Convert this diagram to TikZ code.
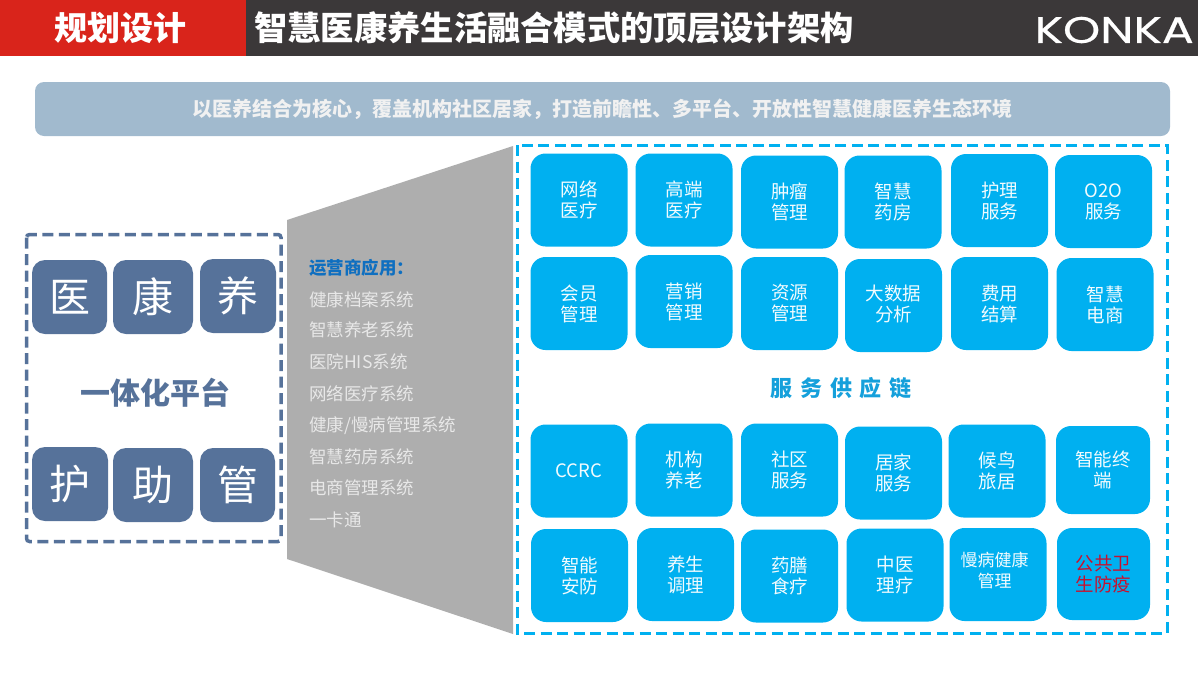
\documentclass[tikz,border=0pt]{standalone}
\usepackage{fontspec}
\setmainfont{Noto Sans CJK SC}
\newfontfamily\logofont[FakeStretch=1.28,FakeBold=0.6]{Poppins}
\definecolor{headred}{HTML}{D9241B}
\definecolor{headdark}{HTML}{3B3839}
\definecolor{bannerblue}{HTML}{A1BACE}
\definecolor{navy}{HTML}{56729A}
\definecolor{cellblue}{HTML}{00B0F0}
\definecolor{funnelgray}{HTML}{AEAEAE}
\definecolor{listgray}{HTML}{E8E8E8}
\definecolor{opsblue}{HTML}{0F6FC0}
\definecolor{alertred}{HTML}{C8102E}
\tikzset{
    cellbox/.style={fill=cellblue, rounded corners=15pt, minimum width=97pt, minimum height=93pt,
        inner sep=0pt, align=center, text=white!95!cellblue, font=\fontsize{18.5}{21}\selectfont},
    bigbox/.style={fill=navy, rounded corners=13pt, minimum height=74pt, inner sep=0pt,
        text=white, font=\fontsize{41}{45}\selectfont},
    sysitem/.style={anchor=west, inner sep=0pt, text=listgray, font=\fontsize{17.5}{20}\selectfont},
    framedash/.style={dash pattern=on 11pt off 5.5pt}
}
\begin{document}
\begin{tikzpicture}[x=1pt, y=-1pt]
        \useasboundingbox (0,0) rectangle (1200,675);
        % header
        \fill [headdark] (246,0) rectangle (1198,56);
        \fill [headred] (0,0) rectangle (246,56);
        \node [inner sep=0pt, text=white, font=\fontsize{33}{36}\bfseries\selectfont] (part) at (120.5,28) {规划设计};
        \node [anchor=west, inner sep=0pt, text=white, font=\fontsize{33.3}{36}\bfseries\selectfont]
            (title) at (254,28) {智慧医康养生活融合模式的顶层设计架构};
        \node [anchor=east, inner sep=0pt, text=white, font=\logofont\fontsize{37}{40}\selectfont]
            (logo) at (1194,30) {KONKA};
        % banner
        \node [fill=bannerblue, rounded corners=9pt, minimum width=1135pt, minimum height=54pt,
            inner sep=0pt, text=listgray!60!white, font=\fontsize{20}{24}\bfseries\selectfont] (banner) at (602.5,109)
            {以医养结合为核心，覆盖机构社区居家，打造前瞻性、多平台、开放性智慧健康医养生态环境};

        % left panel
        \draw [navy, line width=3.5pt, framedash, rounded corners=3pt] (26.5,234.5) rectangle (281,541.5);
        \foreach \name/\cx/\cy/\w/\txt in {yi/69.5/297/75/医, kang/153/297/80/康, yang/238/296/76/养,
            hu/70/484/76/护, zhu/153/485/80/助, guan/237.5/485/75/管}
            \node [bigbox, minimum width=\w pt] (\name) at (\cx,\cy) {\txt};
        \node [text=navy, inner sep=0pt, font=\fontsize{30}{34}\bfseries\selectfont] (platform) at (155,393) {一体化平台};

        % funnel
        \fill [funnelgray] (287,220) -- (513,146) -- (513,634) -- (287,559) -- cycle;
        \node [sysitem, text=opsblue, font=\fontsize{17.5}{20}\bfseries\selectfont] (ops) at (309,268) {运营商应用：};
        \foreach \y/\txt [count=\i] in {300/健康档案系统, 330/智慧养老系统, 362/医院HIS系统, 394/网络医疗系统,
            426/{健康/慢病管理系统}, 457/智慧药房系统, 488/电商管理系统, 520/一卡通}
            \node [sysitem] (sys\i) at (309,\y) {\txt};

        % right panel
        \draw [cellblue, line width=3pt, framedash] (517,145) rectangle (1167,633);
        \foreach \name/\cx/\cy/\txt in {
            a1/579/200/网络\\医疗, a2/684/200/高端\\医疗, a3/789.5/202/肿瘤\\管理,
            a4/893/202/智慧\\药房, a5/999.5/200.5/护理\\服务, a6/1103.5/201.5/O2O\\服务,
            b1/579/303.5/会员\\管理, b2/684/301.5/营销\\管理, b3/789.5/303.5/资源\\管理,
            b5/999.5/303.5/费用\\结算, b6/1105/304.5/智慧\\电商,
            c1/579/471/CCRC, c2/684/470/机构\\养老, c3/789.5/470/社区\\服务,
            c4/893.5/473/居家\\服务, c5/997/471/候鸟\\旅居,
            d1/579.5/575.5/智能\\安防, d2/685.5/574.5/养生\\调理, d3/789.5/576/药膳\\食疗,
            d4/895/575/中医\\理疗}
            \node [cellbox] (\name) at (\cx,\cy) {\txt};
        \node [cellbox] (b4) at (893.5,305.5) {};
        \node [cellbox, minimum height=0pt, fill=none] (b4text) at (893.5,303.5) {大数据\\分析};
        \node [cellbox, minimum width=94pt, minimum height=88pt] (c6) at (1103,470) {智能终\\端};
        \node [cellbox] (d5) at (998,574.5) {};
        \node [cellbox, minimum height=0pt, fill=none, font=\fontsize{17}{21}\selectfont] (d5text) at (994.5,570.5) {慢病健康\\管理};
        \node [cellbox, minimum width=93pt, minimum height=92pt, text=alertred] (d6) at (1103.5,574) {公共卫\\生防疫};
        \node [inner sep=0pt, text=cellblue!75!navy, font=\fontsize{22}{26}\bfseries\selectfont] (chain) at (841,388)
            {服\hspace{7.7pt}务\hspace{7.7pt}供\hspace{7.7pt}应\hspace{7.7pt}链};
    \end{tikzpicture}
\end{document}
